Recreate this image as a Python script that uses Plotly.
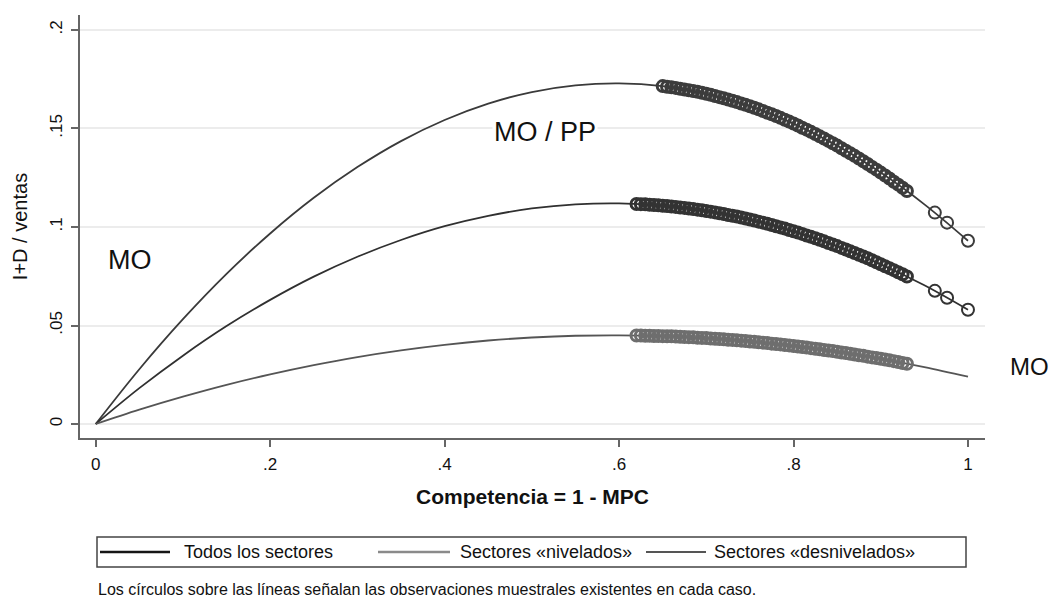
import plotly.graph_objects as go

# ---- data ----
curve_x = [0, 0.05, 0.10, 0.15, 0.20, 0.25, 0.30, 0.35, 0.40, 0.45, 0.50,
           0.55, 0.60, 0.65, 0.70, 0.75, 0.80, 0.85, 0.90, 0.95, 1.00]
curve_top = [0, 0.0278, 0.0532, 0.0762, 0.0967, 0.1148, 0.1304, 0.1436, 0.1543, 0.1626, 0.1685,
             0.1719, 0.1729, 0.1715, 0.1676, 0.1613, 0.1525, 0.1413, 0.1276, 0.1115, 0.0930]
curve_mid = [0, 0.0182, 0.0347, 0.0497, 0.0630, 0.0748, 0.0849, 0.0934, 0.1004, 0.1057, 0.1094,
             0.1115, 0.1120, 0.1108, 0.1081, 0.1038, 0.0978, 0.0903, 0.0811, 0.0704, 0.0580]
curve_low = [0, 0.0073, 0.0139, 0.0199, 0.0252, 0.0299, 0.0340, 0.0374, 0.0402, 0.0424, 0.0439,
             0.0448, 0.0450, 0.0446, 0.0436, 0.0419, 0.0396, 0.0367, 0.0331, 0.0289, 0.0240]

# observations (circles), on whole hundredths
obs_top_x = [0.65, 0.66, 0.67, 0.68, 0.69, 0.70, 0.71, 0.72, 0.73, 0.74, 0.75, 0.76, 0.77, 0.78,
             0.79, 0.80, 0.81, 0.82, 0.83, 0.84, 0.85, 0.86, 0.87, 0.88, 0.89, 0.90, 0.91, 0.92,
             0.93]
obs_top_y = [0.1715, 0.1709, 0.1702, 0.1694, 0.1686, 0.1676, 0.1665, 0.1653, 0.1641, 0.1627,
             0.1613, 0.1597, 0.1580, 0.1563, 0.1544, 0.1525, 0.1504, 0.1483, 0.1460, 0.1437,
             0.1413, 0.1387, 0.1361, 0.1334, 0.1305, 0.1276, 0.1246, 0.1215, 0.1183]
obs_mid_x = [0.62, 0.63, 0.64, 0.65, 0.66, 0.67, 0.68, 0.69, 0.70, 0.71, 0.72, 0.73, 0.74, 0.75,
             0.76, 0.77, 0.78, 0.79, 0.80, 0.81, 0.82, 0.83, 0.84, 0.85, 0.86, 0.87, 0.88, 0.89,
             0.90, 0.91, 0.92, 0.93]
obs_mid_y = [0.1117, 0.1115, 0.1112, 0.1108, 0.1104, 0.1099, 0.1094, 0.1088, 0.1081, 0.1074,
             0.1066, 0.1057, 0.1048, 0.1038, 0.1027, 0.1016, 0.1004, 0.0992, 0.0978, 0.0965,
             0.0950, 0.0935, 0.0919, 0.0903, 0.0886, 0.0868, 0.0850, 0.0831, 0.0811, 0.0791,
             0.0770, 0.0749]
obs_low_x = [0.62, 0.63, 0.64, 0.65, 0.66, 0.67, 0.68, 0.69, 0.70, 0.71, 0.72, 0.73, 0.74, 0.75,
             0.76, 0.77, 0.78, 0.79, 0.80, 0.81, 0.82, 0.83, 0.84, 0.85, 0.86, 0.87, 0.88, 0.89,
             0.90, 0.91, 0.92, 0.93]
obs_low_y = [0.0449, 0.0448, 0.0447, 0.0446, 0.0445, 0.0443, 0.0441, 0.0438, 0.0436, 0.0433,
             0.0430, 0.0427, 0.0423, 0.0419, 0.0415, 0.0411, 0.0406, 0.0401, 0.0396, 0.0391,
             0.0385, 0.0379, 0.0373, 0.0367, 0.0360, 0.0353, 0.0346, 0.0338, 0.0331, 0.0323,
             0.0315, 0.0306]

# further observations in between (dense bands)
obs_top_x2 = [0.655, 0.665, 0.675, 0.685, 0.695, 0.705, 0.715, 0.725, 0.735, 0.745, 0.755,
              0.765, 0.775, 0.785, 0.795, 0.805, 0.815, 0.825, 0.835, 0.845, 0.855, 0.865,
              0.875, 0.885, 0.895, 0.905, 0.915, 0.925]
obs_top_y2 = [0.1712, 0.1706, 0.1698, 0.1690, 0.1681, 0.1671, 0.1659, 0.1647, 0.1634, 0.1620,
              0.1605, 0.1589, 0.1572, 0.1554, 0.1535, 0.1515, 0.1494, 0.1472, 0.1449, 0.1425,
              0.1400, 0.1374, 0.1348, 0.1320, 0.1291, 0.1261, 0.1230, 0.1199]
obs_mid_x2 = [0.625, 0.635, 0.645, 0.655, 0.665, 0.675, 0.685, 0.695, 0.705, 0.715, 0.725,
              0.735, 0.745, 0.755, 0.765, 0.775, 0.785, 0.795, 0.805, 0.815, 0.825, 0.835,
              0.845, 0.855, 0.865, 0.875, 0.885, 0.895, 0.905, 0.915, 0.925]
obs_mid_y2 = [0.1116, 0.1113, 0.1110, 0.1106, 0.1102, 0.1097, 0.1091, 0.1085, 0.1078, 0.1070,
              0.1061, 0.1053, 0.1043, 0.1033, 0.1022, 0.1010, 0.0998, 0.0985, 0.0972, 0.0957,
              0.0943, 0.0927, 0.0911, 0.0894, 0.0877, 0.0859, 0.0841, 0.0821, 0.0801, 0.0781,
              0.0760]
obs_low_x2 = [0.625, 0.635, 0.645, 0.655, 0.665, 0.675, 0.685, 0.695, 0.705, 0.715, 0.725,
              0.735, 0.745, 0.755, 0.765, 0.775, 0.785, 0.795, 0.805, 0.815, 0.825, 0.835,
              0.845, 0.855, 0.865, 0.875, 0.885, 0.895, 0.905, 0.915, 0.925]
obs_low_y2 = [0.0449, 0.0448, 0.0447, 0.0445, 0.0444, 0.0442, 0.0440, 0.0437, 0.0434, 0.0431,
              0.0428, 0.0425, 0.0421, 0.0417, 0.0413, 0.0408, 0.0404, 0.0399, 0.0393, 0.0388,
              0.0382, 0.0376, 0.0370, 0.0363, 0.0357, 0.0349, 0.0342, 0.0335, 0.0327, 0.0319,
              0.0310]

# isolated observations at the high-competition end
obs_top_x3 = [0.962, 0.976, 1.0]
obs_top_y3 = [0.1073, 0.1022, 0.0930]
obs_mid_x3 = [0.962, 0.976, 1.0]
obs_mid_y3 = [0.0676, 0.0641, 0.0580]

x_ticks = [0, 0.2, 0.4, 0.6, 0.8, 1.0]
x_tick_labels = ["0", ".2", ".4", ".6", ".8", "1"]
y_ticks = [0, 0.05, 0.1, 0.15, 0.2]
y_tick_labels = ["0", ".05", ".1", ".15", ".2"]

legend_labels = ["Todos los sectores", "Sectores «nivelados»", "Sectores «desnivelados»"]
note_text = "Los círculos sobre las líneas señalan las observaciones muestrales existentes en cada caso."

FONT = "Liberation Sans, Arial, sans-serif"

# the page has an 8 px body margin; the figure is sized to fill the rest of the window
W, H = 1052, 590
OFF = 8

fig = go.Figure()

series = [
    (legend_labels[1], curve_top, obs_top_x + obs_top_x2, obs_top_y + obs_top_y2,
     obs_top_x3, obs_top_y3, "#3a3a3a", "#3c3c3c"),
    (legend_labels[0], curve_mid, obs_mid_x + obs_mid_x2, obs_mid_y + obs_mid_y2,
     obs_mid_x3, obs_mid_y3, "#303030", "#333333"),
    (legend_labels[2], curve_low, obs_low_x + obs_low_x2, obs_low_y + obs_low_y2,
     [], [], "#555555", "#6e6e6e"),
]
for name, cy, ox, oy, ix, iy, lc, mc in series:
    fig.add_trace(go.Scatter(x=curve_x, y=cy, mode="lines", name=name,
                             line=dict(color=lc, width=1.8, shape="spline"),
                             showlegend=False, hoverinfo="skip"))
    fig.add_trace(go.Scatter(x=ox, y=oy, mode="markers", name=name,
                             marker=dict(symbol="circle-open", size=11, color=mc,
                                         line=dict(color=mc, width=3)),
                             showlegend=False))
    if ix:
        fig.add_trace(go.Scatter(x=ix, y=iy, mode="markers", name=name,
                                 marker=dict(symbol="circle-open", size=12, color=mc,
                                             line=dict(color=mc, width=2)),
                                 showlegend=False))

# plot-area geometry in window pixels: x 80..985, y 15..438
def px_x(p):
    return (p - 80) / 905.0

def px_y(p):
    return (438 - p) / 423.0

fig.add_annotation(x=0.039, y=0.0832, text="MO", showarrow=False,
                   font=dict(family=FONT, size=27, color="#111"))
fig.add_annotation(x=0.515, y=0.148, text="MO / PP", showarrow=False, bgcolor="white",
                   font=dict(family=FONT, size=27, color="#111"))
fig.add_annotation(xref="paper", yref="paper", x=px_x(1008), y=px_y(382), xanchor="left",
                   text="MO", showarrow=False, font=dict(family=FONT, size=24, color="#111"))

# manual legend (box, line samples and labels)
fig.add_shape(type="rect", xref="paper", yref="paper",
              x0=px_x(97), x1=px_x(966), y0=px_y(567), y1=px_y(537),
              line=dict(color="#444", width=1.5), fillcolor="white")
leg_items = [(100, 170, 182, "#151515", 2.5),
             (378, 450, 458, "#8a8a8a", 2.5),
             (646, 706, 712, "#555555", 2.0)]
for (lx0, lx1, tx, col, w), lab in zip(leg_items, legend_labels):
    fig.add_shape(type="line", xref="paper", yref="paper",
                  x0=px_x(lx0), x1=px_x(lx1), y0=px_y(552), y1=px_y(552),
                  line=dict(color=col, width=w))
    fig.add_annotation(xref="paper", yref="paper", x=px_x(tx), y=px_y(552),
                       xanchor="left", yanchor="middle", text=lab, showarrow=False,
                       font=dict(family=FONT, size=18, color="#111"))

fig.add_annotation(xref="paper", yref="paper", x=px_x(96), y=px_y(589),
                   xanchor="left", yanchor="middle", text=note_text, showarrow=False,
                   font=dict(family=FONT, size=16, color="#111"))

fig.update_layout(
    width=W, height=H,
    margin=dict(l=80 - OFF, r=W - (985 - OFF), t=15 - OFF, b=H - (438 - OFF)),
    plot_bgcolor="white", paper_bgcolor="white",
    font=dict(family=FONT, color="#111"),
    showlegend=False,
    xaxis=dict(range=[-0.018, 1.0195], tickvals=x_ticks, ticktext=x_tick_labels,
               showgrid=False, zeroline=False, showline=True, linecolor="#666", linewidth=2,
               ticks="outside", ticklen=7, tickwidth=1.5, tickcolor="#666",
               ticklabelstandoff=3,
               tickfont=dict(family=FONT, size=17, color="#111"),
               title=dict(text="Competencia = 1 - MPC", standoff=16,
                          font=dict(family=FONT, size=21, color="#111", weight="bold"))),
    yaxis=dict(range=[-0.0071, 0.2076], tickvals=y_ticks, ticktext=y_tick_labels,
               showgrid=True, gridcolor="#ececec", gridwidth=1.5, zeroline=False,
               showline=True, linecolor="#666", linewidth=2,
               ticks="outside", ticklen=7, tickwidth=1.5, tickcolor="#666", tickangle=-90,
               ticklabelstandoff=2,
               tickfont=dict(family=FONT, size=17, color="#111"),
               title=dict(text="I+D / ventas", standoff=14,
                          font=dict(family=FONT, size=20, color="#111"))),
)

fig.write_html("out.html")
